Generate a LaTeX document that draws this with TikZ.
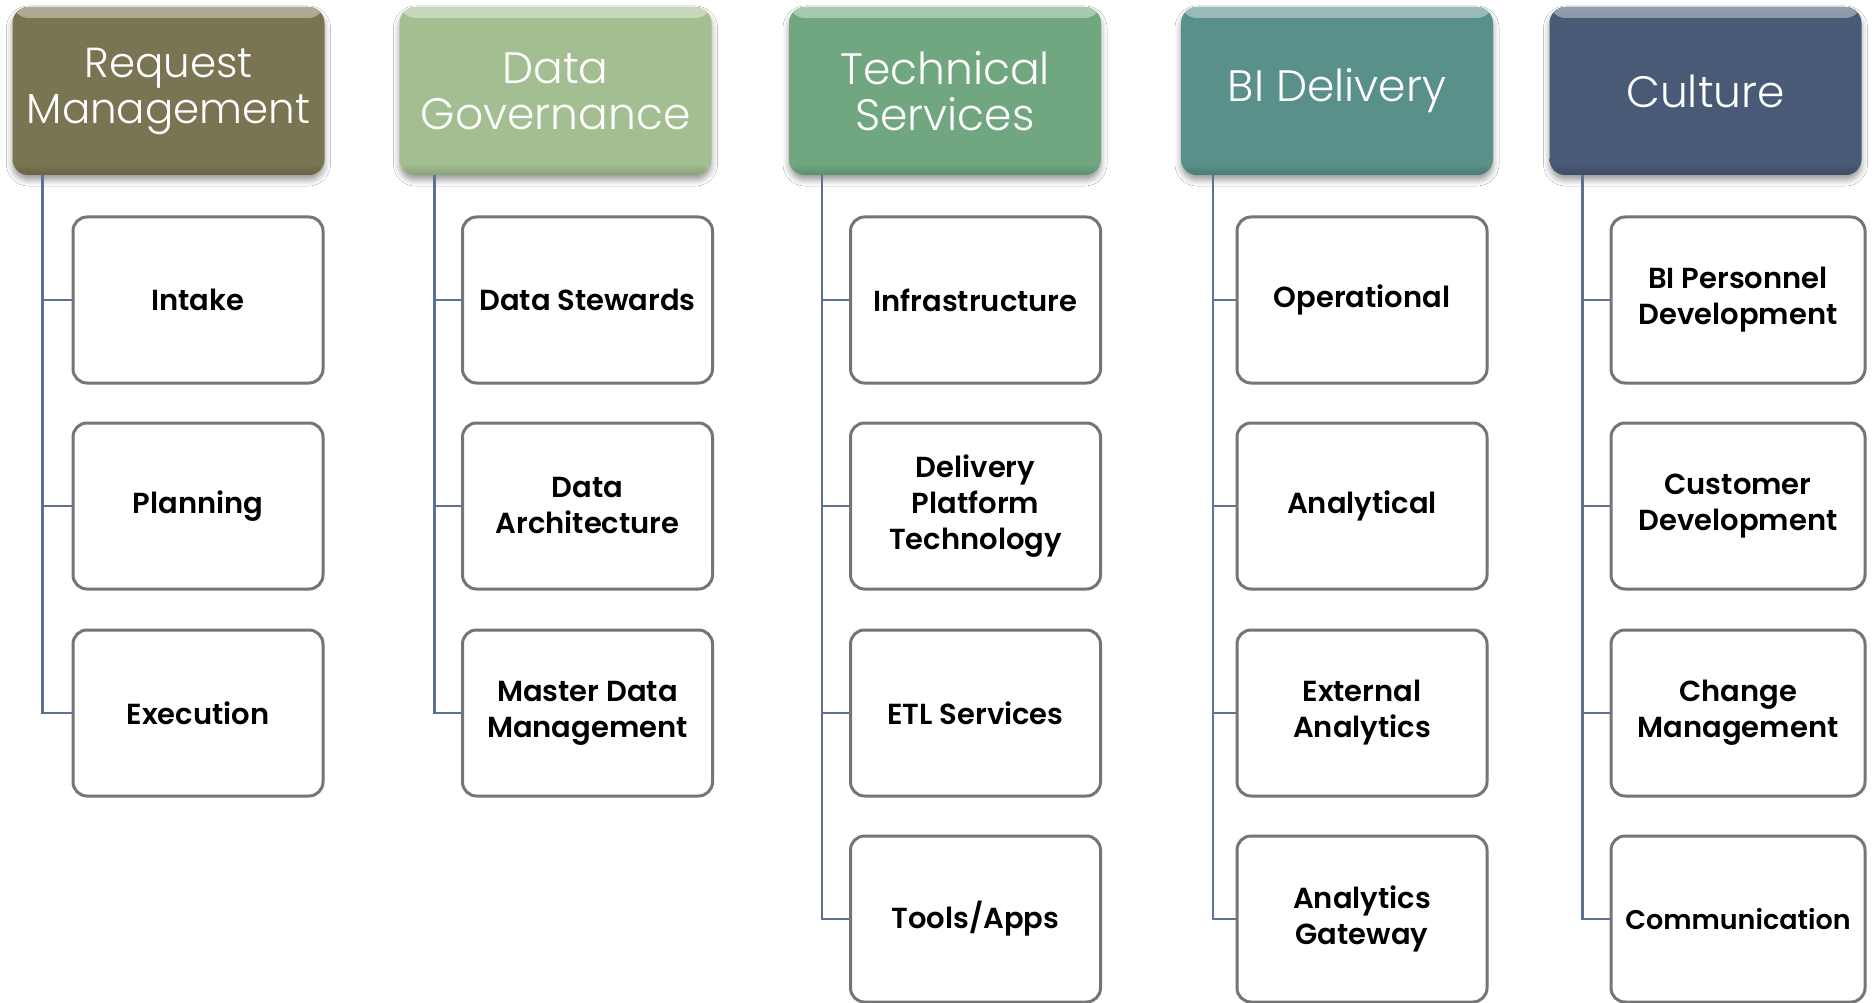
\documentclass[tikz,border=0pt]{standalone}
\usepackage{fontspec}
\setmainfont{Poppins}
\newfontfamily\headfont{Poppins Light}
\newfontfamily\itemfont{Poppins SemiBold}
\usetikzlibrary{shadows.blur}

\definecolor{rmOlive}{RGB}{121,117,82}
\definecolor{dgSage}{RGB}{163,190,145}
\definecolor{tsGreen}{RGB}{112,167,128}
\definecolor{biTeal}{RGB}{89,145,138}
\definecolor{cuSlate}{RGB}{72,90,117}
\definecolor{linkBlue}{RGB}{92,113,148}
\definecolor{frameGray}{RGB}{118,116,116}

\tikzset{
  hdr/.style={rounded corners=16pt, minimum width=312pt, minimum height=168pt,
    inner sep=0pt, align=center, text=white, fill=#1,
    font=\headfont\fontsize{44}{46}\selectfont,
    blur shadow={shadow xshift=0pt, shadow yshift=-5pt,
      shadow blur radius=6pt, shadow opacity=40},
    path picture={
      \shade[top color=#1!60!white, bottom color=#1]
        (path picture bounding box.north west)
        rectangle ([yshift=-11pt]path picture bounding box.north east);
      \shade[top color=#1, bottom color=#1!85!black]
        ([yshift=12pt]path picture bounding box.south west)
        rectangle (path picture bounding box.south east);
    }},
  item/.style={draw=frameGray, line width=3pt, fill=white, rounded corners=14pt,
    minimum width=250pt, minimum height=166pt, inner sep=2pt, align=center,
    font=\itemfont\fontsize{29}{36}\selectfont},
  conn/.style={draw=linkBlue, line width=2.5pt},
}

\begin{document}
\begin{tikzpicture}[x=1pt, y=-1pt]
  \useasboundingbox[fill=white] (0,0) rectangle (1872,1003);

  % column headers
  \node[hdr=rmOlive, font=\headfont\fontsize{42}{46}\selectfont]
    (h1) at (168.5,91) {Request\\Management};
  \node[hdr=dgSage]  (h2) at (555.5,91) {Data\\Governance};
  \node[hdr=tsGreen] (h3) at (945,91)   {Technical\\Services};
  \node[hdr=biTeal]  (h4) at (1337,91)  {BI Delivery};
  \node[hdr=cuSlate] (h5) at (1705.5,91) {Culture};

  % Request Management
  \node[item] (c1a) at (198,300) {Intake};
  \node[item] (c1b) at (198,506) {Planning};
  \node[item] (c1c) at (198,713) {Execution};

  % Data Governance
  \node[item] (c2a) at (587.5,300) {Data Stewards};
  \node[item] (c2b) at (587.5,506) {Data\\Architecture};
  \node[item] (c2c) at (587.5,713) {Master Data\\Management};

  % Technical Services
  \node[item] (c3a) at (975.5,300) {Infrastructure};
  \node[item] (c3b) at (975.5,506) {Delivery\\Platform\\Technology};
  \node[item] (c3c) at (975.5,713) {ETL Services};
  \node[item] (c3d) at (975.5,919) {Tools/Apps};

  % BI Delivery
  \node[item] (c4a) at (1362,300) {Operational};
  \node[item] (c4b) at (1362,506) {Analytical};
  \node[item] (c4c) at (1362,713) {External\\Analytics};
  \node[item] (c4d) at (1362,919) {Analytics\\Gateway};

  % Culture
  \node[item, minimum width=254pt] (c5a) at (1738,300) {BI Personnel\\Development};
  \node[item, minimum width=254pt] (c5b) at (1738,506) {Customer\\Development};
  \node[item, minimum width=254pt] (c5c) at (1738,713) {Change\\Management};
  \node[item, minimum width=254pt, font=\itemfont\fontsize{27}{36}\selectfont]
    (c5d) at (1738,919) {Communication};

  % trunk start points under each header
  \coordinate (s1) at ([xshift=30pt]h1.south west);
  \coordinate (s2) at ([xshift=35pt]h2.south west);
  \coordinate (s3) at ([xshift=33pt]h3.south west);
  \coordinate (s4) at ([xshift=32pt]h4.south west);
  \coordinate (s5) at ([xshift=33pt]h5.south west);

  % elbow connectors
  \foreach \c in {c1a,c1b,c1c} \draw[conn] (s1) |- (\c.west);
  \foreach \c in {c2a,c2b,c2c} \draw[conn] (s2) |- (\c.west);
  \foreach \c in {c3a,c3b,c3c,c3d} \draw[conn] (s3) |- (\c.west);
  \foreach \c in {c4a,c4b,c4c,c4d} \draw[conn] (s4) |- (\c.west);
  \foreach \c in {c5a,c5b,c5c,c5d} \draw[conn] (s5) |- (\c.west);
\end{tikzpicture}
\end{document}
